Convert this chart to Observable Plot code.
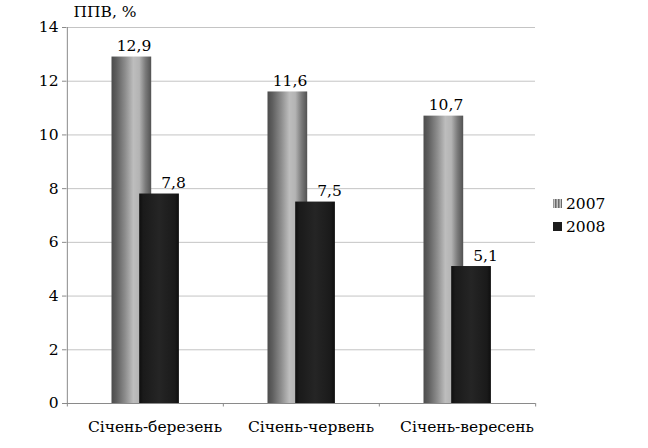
<!DOCTYPE html>
<html>
<head>
<meta charset="utf-8">
<script src="https://cdn.jsdelivr.net/npm/d3@7"></script>
<script src="https://cdn.jsdelivr.net/npm/@observablehq/plot@0.6"></script>
<style>
  html, body { margin: 0; padding: 0; background: #fff; }
  #chart svg { display: block; }
</style>
</head>
<body>
<div id="chart"></div>
<script>
const categories = ["Січень-березень", "Січень-червень", "Січень-вересень"];
const series = ["2007", "2008"];
const values2007 = [12.9, 11.6, 10.7];
const values2008 = [7.8, 7.5, 5.1];
const yTicks = [0, 2, 4, 6, 8, 10, 12, 14];
const yTitle = "ППВ, %";

const data = categories.flatMap((c, i) => [
  {cat: c, year: series[0], value: values2007[i]},
  {cat: c, year: series[1], value: values2008[i]}
]);
const fmt = v => v.toFixed(1).replace(".", ",");

const W = 648, H = 448, mL = 66, mR = 113, mT = 27, mB = 45;
const band = (W - mL - mR) / categories.length;
const FS = 15.5;

function defs() {
  const d = d3.create("svg:defs");
  const g1 = d.append("linearGradient").attr("id", "g2007").attr("x1", 0).attr("x2", 1).attr("y1", 0).attr("y2", 0);
  [[0, "#4c4c4c"], [0.12, "#5e5e5e"], [0.35, "#8e8e8e"], [0.55, "#bdbdbd"], [0.7, "#b4b4b4"], [0.85, "#7c7c7c"], [1, "#525252"]]
    .forEach(([o, c]) => g1.append("stop").attr("offset", o).attr("stop-color", c));
  const g2 = d.append("linearGradient").attr("id", "g2008").attr("x1", 0).attr("x2", 1).attr("y1", 0).attr("y2", 0);
  [[0, "#0e0e0e"], [0.1, "#1a1a1a"], [0.5, "#252525"], [0.9, "#1a1a1a"], [1, "#0e0e0e"]]
    .forEach(([o, c]) => g2.append("stop").attr("offset", o).attr("stop-color", c));
  const p = d.append("pattern").attr("id", "legStripe").attr("patternUnits", "userSpaceOnUse")
    .attr("width", 3).attr("height", 3);
  p.append("rect").attr("width", 3).attr("height", 3).attr("fill", "#c4c4c4");
  p.append("rect").attr("width", 1.5).attr("height", 3).attr("fill", "#6a6a6a");
  return d.node();
}

function legend() {
  const g = d3.create("svg:g").attr("font-size", FS).attr("text-anchor", "start");
  const fills = ["url(#legStripe)", "#1c1c1c"];
  series.forEach((s, i) => {
    g.append("rect").attr("x", 553).attr("y", 199 + i * 23).attr("width", 9).attr("height", 9).attr("fill", fills[i]);
    g.append("text").attr("x", 566).attr("y", 204 + i * 23).attr("dy", "0.35em").attr("fill", "#000").text(s);
  });
  return g.node();
}

const chart = Plot.plot({
  width: W, height: H,
  marginLeft: mL, marginRight: mR, marginTop: mT, marginBottom: mB,
  style: {fontFamily: "\"DejaVu Serif\", serif", fontSize: FS + "px", color: "#000", background: "#fff", overflow: "visible"},
  x: {type: "band", domain: categories, padding: 0},
  y: {domain: [0, 14]},
  marks: [
    defs,
    Plot.gridY(yTicks, {stroke: "#c4c4c4", strokeOpacity: 1}),
    Plot.ruleX([categories[0]], {x: d => d, y1: 0, y2: 14, dx: -band / 2, stroke: "#8a8a8a"}),
    Plot.ruleY([0], {stroke: "#8a8a8a"}),
    Plot.ruleX(categories, {x: d => d, y1: 0, y2: -0.13, dx: -band / 2, stroke: "#8a8a8a"}),
    Plot.ruleX([categories[categories.length - 1]], {x: d => d, y1: 0, y2: -0.13, dx: band / 2, stroke: "#8a8a8a"}),
    Plot.barY(data.filter(d => d.year === series[0]), {x: "cat", y: "value", fill: "url(#g2007)", insetLeft: 44.5, insetRight: 71.8}),
    Plot.barY(data.filter(d => d.year === series[1]), {x: "cat", y: "value", fill: "url(#g2008)", insetLeft: 72.2, insetRight: 44.1}),
    Plot.text(data.filter(d => d.year === series[0]), {x: "cat", y: "value", text: d => fmt(d.value), dx: -11.5, dy: -6, lineAnchor: "bottom", fill: "#000", fontSize: FS}),
    Plot.text(data.filter(d => d.year === series[1]), {x: "cat", y: "value", text: d => fmt(d.value), dx: 28, dy: -6, lineAnchor: "bottom", fill: "#000", fontSize: FS}),
    Plot.axisX({tickSize: 0, tickPadding: 17, dx: 9.5, label: null, fontSize: FS}),
    Plot.axisY(yTicks, {tickSize: 4, tickPadding: 4, stroke: "#8a8a8a", label: null, fontSize: FS}),
    Plot.text([yTitle], {frameAnchor: "top-left", dx: 7, dy: -15, textAnchor: "start", lineAnchor: "middle", fill: "#000", fontSize: FS}),
    legend
  ]
});
document.getElementById("chart").append(chart);
</script>
</body>
</html>
